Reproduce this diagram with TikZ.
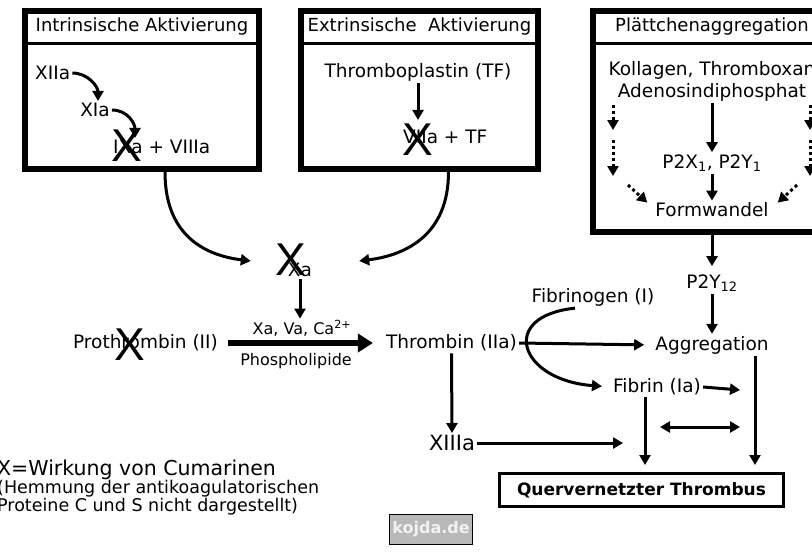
\documentclass[tikz,border=0pt]{standalone}
\usepackage{fontspec}
\setmainfont{DejaVu Sans}
\newfontfamily\crossfont{Liberation Sans}
\usetikzlibrary{arrows.meta,positioning,calc}
\tikzset{
  frame/.style ={draw,line width=6pt,minimum height=158pt,inner sep=0pt},
  title/.style ={font=\fontsize{18}{21}\selectfont,inner sep=0pt},
  lbl/.style   ={font=\fontsize{18.5}{22}\selectfont,inner sep=2pt},
  small/.style ={font=\fontsize{16}{19}\selectfont,inner sep=1pt},
  cross/.style ={font=\crossfont\fontsize{46}{46}\selectfont,inner sep=0pt},
  arr/.style   ={-{Triangle[length=10pt,width=11pt]},line width=3pt},
  bigarr/.style={-{Triangle[length=15pt,width=18pt]},line width=6pt},
  dotarr/.style={arr,dash pattern=on 3pt off 3pt},
  dblarr/.style={{Triangle[length=10pt,width=11pt]}-{Triangle[length=10pt,width=11pt]},
                 line width=3pt}
}
\begin{document}
\begin{tikzpicture}[x=1pt,y=-1pt]
  \useasboundingbox[fill=white] (0,0) rectangle (812,552);
  \clip (0,0) rectangle (812,552);
  % the three boxes with their headers
  \node[frame,minimum width=234pt] (intr) at (142,90) {};
  \node[frame,minimum width=237pt] (extr) at (419.5,90) {};
  \node[frame,minimum width=238pt,minimum height=221pt] (plat) at (712,121.5) {};
  \foreach \b in {intr,extr,plat}
    \draw[line width=3pt] ($(\b.north west)+(3,35)$) -- ($(\b.north east)+(-3,35)$);
  \node[title] (intrt) at ($(intr.north)+(0,19)$) {Intrinsische Aktivierung};
  \node[title] (extrt) at ($(extr.north)+(0,19)$) {Extrinsische\ \ Aktivierung};
  \node[title] (platt) at ($(plat.north)+(0,19)$) {Plättchenaggregation};

  % intrinsic cascade
  \node[lbl,anchor=west] (xiia) at (33,73) {XIIa};
  \node[lbl] (xia) at (95,110) {XIa};
  \node[lbl,anchor=west] (ixa) at (111,147) {IXa + VIIIa};
  \draw[arr] (xiia.east) .. controls +(16,0) and +(0,-14) .. ([xshift=3pt]xia.north);
  \draw[arr] (xia.east) .. controls +(16,0) and +(0,-14) .. ($(ixa.north west)+(24,0)$);

  % extrinsic cascade
  \node[lbl] (thrombo) at (418,72) {Thromboplastin (TF)};
  \node[lbl,anchor=west] (viia) at (401,137) {VIIa + TF};
  \draw[arr,shorten >=8pt] (thrombo.south) -- (thrombo.south |- viia.north);

  % platelets
  \node[lbl,align=center] (adp) at (712,81) {Kollagen, Thromboxan\\Adenosindiphosphat};
  \node[lbl] (p2x) at (712,163) {P2X\textsubscript{1}, P2Y\textsubscript{1}};
  \node[lbl] (formw) at (712,210) {Formwandel};
  \draw[arr] (adp.south) -- (p2x.north);
  \draw[arr] (p2x.south) -- (formw.north);
  \foreach \s/\x in {l/613,r/810}{
    \coordinate (\s a) at (\x,105); \coordinate (\s b) at (\x,130);
    \coordinate (\s c) at (\x,140); \coordinate (\s d) at (\x,176);
    \draw[dotarr] (\s a) -- (\s b);
    \draw[dotarr] (\s c) -- (\s d);
  }
  \coordinate (ldiag) at (628,185);
  \coordinate (rdiag) at (797,185);
  \draw[dotarr] (ldiag) -- ($(formw.north west)+(-6,2)$);
  \draw[dotarr] (rdiag) -- ($(formw.north east)+(7,2)$);

  \node[lbl] (p2y) at (712,283) {P2Y\textsubscript{12}};
  \node[lbl] (aggr) at (712,345) {Aggregation};
  \draw[arr,shorten >=6pt] (plat.south) -- (p2y.north);
  \draw[arr] (p2y.south) -- (aggr.north);

  % common pathway
  \node[lbl] (xa) at (300,270) {Xa};
  \draw[arr] ($(intr.south)+(23,0)$) .. controls +(0,62) and +(-48,-6) .. ($(xa.west)+(-35,-9)$);
  \draw[arr] ($(extr.south)+(29,0)$) .. controls +(0,62) and +(48,-6) .. ($(xa.east)+(45,-9)$);
  \node[small] (cofac) at (302,328) {Xa, Va, Ca\textsuperscript{2+}};
  \node[small] (phospho) at (296,361) {Phospholipide};
  \draw[arr] (xa.south) -- (xa.south |- cofac.north);
  \node[lbl] (prothr) at (145.5,343) {Prothrombin (II)};
  \node[lbl] (thrombin) at (451.5,343) {Thrombin (IIa)};
  \draw[bigarr,shorten <=8pt,shorten >=11pt] (prothr.east) -- (thrombin.west);

  \node[lbl] (fibrinogen) at (593,297) {Fibrinogen (I)};
  \node[lbl] (fibrin) at (657,387) {Fibrin (Ia)};
  \draw[arr,shorten >=9pt] (thrombin.east) -- (aggr.west);
  \draw[arr,shorten >=9pt] ($(fibrinogen.south)+(-18,0)$) .. controls +(-77,8) and +(-92,-7) .. (fibrin.west);
  \coordinate (fibend) at (740,390);
  \draw[arr] (fibrin.east) -- (fibend);

  \node[lbl,font=\fontsize{21}{22}\selectfont] (xiiia) at (452,443) {XIIIa};
  \coordinate (xiiiend) at (623,443);
  \draw[arr] (thrombin.south) -- (xiiia.north);
  \draw[arr] (xiiia.east) -- (xiiiend);

  \node[draw,line width=3pt,minimum width=284pt,minimum height=33pt,
        font=\bfseries\fontsize{17}{20}\selectfont] (thrombus) at (641.5,490)
        {Quervernetzter Thrombus};
  \draw[arr,shorten >=7pt] ([xshift=43pt]aggr.south) -- ([xshift=43pt]aggr.south |- thrombus.north);
  \draw[arr,shorten >=7pt] ([xshift=-12pt]fibrin.south) -- ([xshift=-12pt]fibrin.south |- thrombus.north);
  \coordinate (dbla) at (660,427);
  \coordinate (dblb) at (740,427);
  \draw[dblarr] (dbla) -- (dblb);

  % cumarin marks
  \node[cross] (x1) at (127,146) {X};
  \node[cross] (x2) at (418,140) {X};
  \node[cross] (x3) at (291,260) {X};
  \node[cross] (x4) at (130,345) {X};

  % legend and logo
  \node[anchor=north west,align=left,inner sep=0pt,font=\fontsize{17.5}{18}\selectfont]
    (note) at (-3,460) {{\fontsize{20.5}{20}\selectfont X=Wirkung von Cumarinen}\\
    (Hemmung der antikoagulatorischen\\Proteine C und S nicht dargestellt)};
  \node[draw,line width=1pt,fill=gray!55,text=gray!10,minimum width=60pt,minimum height=30pt,
        font=\bfseries\fontsize{16}{16}\selectfont] (logo) at (431,529) {kojda.de};
\end{tikzpicture}
\end{document}
